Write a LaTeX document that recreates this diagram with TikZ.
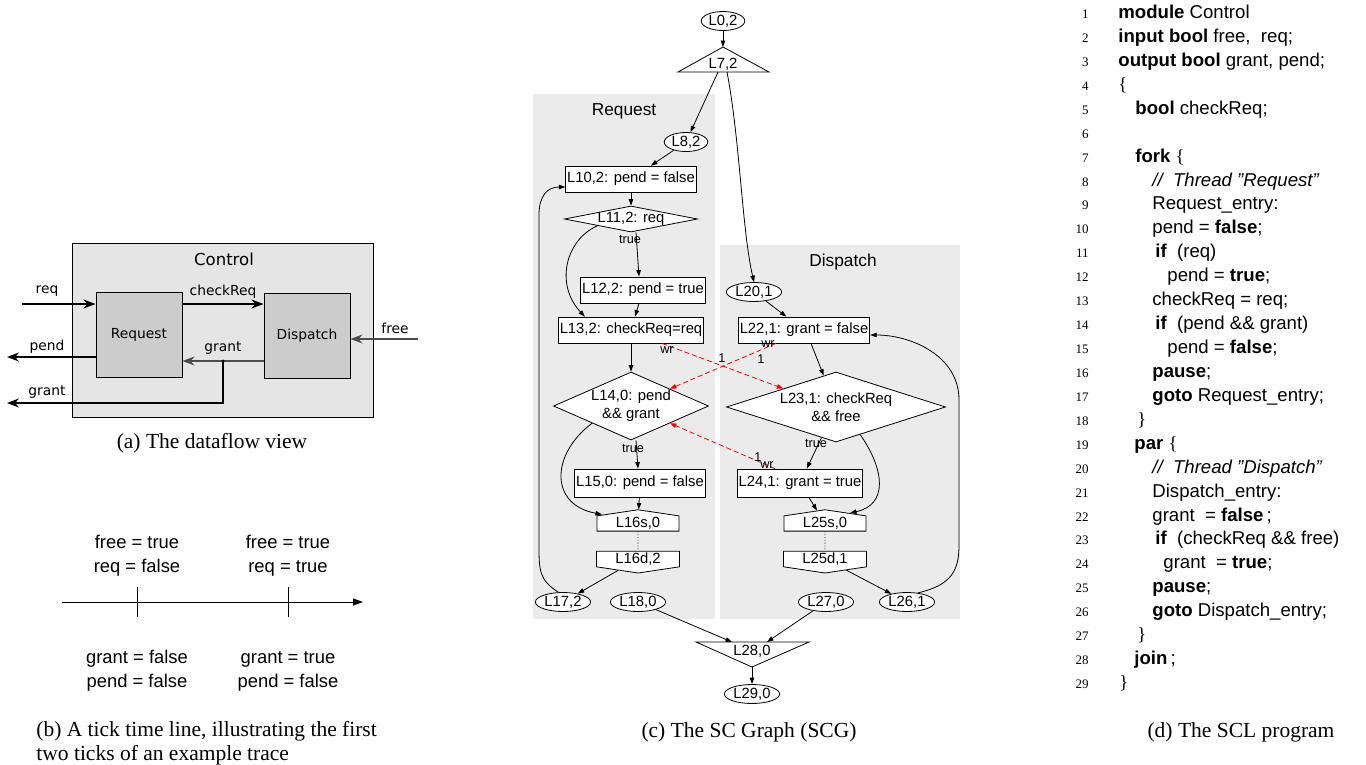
\documentclass[tikz,border=0pt]{standalone}
\usepackage{fontspec}
\setmainfont{Liberation Serif}
\setsansfont{Liberation Sans}
\newfontfamily\dvfont{DejaVu Sans}
\usetikzlibrary{arrows.meta,shapes.geometric,shapes.symbols,calc}

\newcommand{\capfont}{\rmfamily\fontsize{21.5}{25}\selectfont}
\newcommand{\scgfont}{\sffamily\fontsize{14.8}{18}\selectfont}
\newcommand{\smallscg}{\sffamily\fontsize{12.7}{14}\selectfont}
\newcommand{\clfont}{\sffamily\fontsize{17.3}{20}\selectfont}
\newcommand{\codefont}{\sffamily\fontsize{18.6}{22}\selectfont}
\newcommand{\numfont}{\rmfamily\fontsize{13}{15}\selectfont}
\newcommand{\dffont}{\dvfont\fontsize{13.8}{16}\selectfont}
\newcommand{\lbr}{{\rmfamily\{}}
\newcommand{\rbr}{{\rmfamily\}}}

\definecolor{clusterfill}{RGB}{235,235,235}
\definecolor{ctrlfill}{RGB}{229,229,229}
\definecolor{blockfill}{RGB}{204,204,204}

\tikzset{
  ell/.style={draw, fill=white, ellipse, font=\scgfont, inner xsep=1pt, inner ysep=0.5pt, minimum height=19pt},
  stm/.style={draw, fill=white, rectangle, font=\scgfont, inner xsep=1.5pt, inner ysep=0pt, minimum height=26pt},
  cond/.style={draw, fill=white, diamond, font=\scgfont, inner sep=0pt, align=center},
  surf/.style={draw, fill=white, signal, signal to=north, signal from=nowhere, signal pointer angle=163, font=\scgfont, inner xsep=18.8pt, inner ysep=1.5pt},
  dpth/.style={draw, fill=white, signal, signal to=south, signal from=nowhere, signal pointer angle=163, font=\scgfont, inner xsep=18.8pt, inner ysep=1.5pt},
  lbl/.style={font=\smallscg, inner sep=0pt},
  arr/.style={-{Triangle[length=6.5pt,width=4.5pt]}},
  wr/.style={arr, red, dash pattern=on 5pt off 3pt},
  dfblock/.style={draw, fill=blockfill, line width=1pt, minimum width=86pt, minimum height=85pt, font=\dffont},
  dfarr/.style={-{Stealth[length=12pt,width=9pt,inset=4pt]}, line width=1.3pt},
  dflbl/.style={font=\dffont, anchor=base},
  tltext/.style={font=\sffamily\fontsize{18.4}{22}\selectfont, anchor=base},
  codeln/.style={font=\codefont, anchor=base west, inner sep=0pt},
  lnum/.style={font=\numfont, anchor=base east, inner sep=0pt},
  capt/.style={font=\capfont, anchor=base, inner sep=0pt}
}
\newcommand{\codeline}[3]{\node[codeln] (c#1) at (#2,{18.5+(#1-1)*23.93}) {#3};}

\begin{document}
\begin{tikzpicture}[x=1pt,y=-1pt,line width=0.8pt]
\useasboundingbox (0,0) rectangle (1366,764);

% (a) dataflow view
\node[draw, fill=ctrlfill, line width=1pt, minimum width=301pt, minimum height=174pt, inner sep=0pt] (control) at (222.5,330) {};
\node[font=\dvfont\fontsize{16.5}{19}\selectfont, anchor=base] (ctrllabel) at (224,265) {Control};
\node[dfblock] (request) at (139,334.5) {Request};
\node[dfblock] (dispatch) at (307,336) {Dispatch};

\coordinate (reqin) at (22,304);
\coordinate (freein) at (418,339);
\coordinate (pendout) at (7,357);
\coordinate (gdot) at (223,361);
\coordinate (grantout) at (7,403);

\draw[dfarr] (reqin) -- (request.west |- reqin);
\draw[dfarr] (request.east |- reqin) -- (dispatch.west |- reqin);
\draw[dfarr, black!70] (freein) -- (dispatch.east |- freein);
\draw[dfarr, line width=1.1pt, black!70] (dispatch.west |- gdot) -- (request.east |- gdot);
\draw[dfarr] (request.west |- pendout) -- (pendout);
\draw[dfarr, line width=1.1pt] (gdot) |- (grantout);
\fill (gdot) circle (1.6);

\node[dflbl] (lreq) at (47,293) {req};
\node[dflbl] (lcheck) at (223,295) {checkReq};
\node[dflbl] (lfree) at (395,333) {free};
\node[dflbl] (lpend) at (47,350) {pend};
\node[dflbl] (lgrant) at (223,351) {grant};
\node[dflbl] (lgrantout) at (47,395) {grant};
\node[capt] (capa) at (212,448) {(a) The dataflow view};

% (b) tick time line
\coordinate (tstart) at (62,602);
\coordinate (tend) at (363,602);
\draw[-{Triangle[length=10pt,width=7pt]}, line width=1pt] (tstart) -- (tend);
\foreach \x in {137,288}
  \draw[line width=1pt] (\x,587) -- (\x,617);
\node[tltext] (in1a) at (137,548) {free = true};
\node[tltext] (in1b) at (137,572) {req = false};
\node[tltext] (in2a) at (288,548) {free = true};
\node[tltext] (in2b) at (288,572) {req = true};
\node[tltext] (out1a) at (137,663) {grant = false};
\node[tltext] (out1b) at (137,687) {pend = false};
\node[tltext] (out2a) at (288,663) {grant = true};
\node[tltext] (out2b) at (288,687) {pend = false};
\node[capt, anchor=base west] (capb1) at (36,736) {(b) A tick time line, illustrating the first};
\node[capt, anchor=base west] (capb2) at (36,760) {two ticks of an example trace};

% (c) SC graph
\fill[clusterfill] (533,94) rectangle (715,619);
\fill[clusterfill] (720,245) rectangle (960,619);
\node[font=\clfont, anchor=base] (reqthread) at (624,115) {Request};
\node[font=\clfont, anchor=base] (dispthread) at (843,266) {Dispatch};

\node[ell] (l0) at (723,21) {L0,2};
\draw[fill=white] (723,47) -- (769,72) -- (678,72) -- cycle;
\node[font=\scgfont, inner sep=0pt] (l7) at (723,64) {L7,2};
\coordinate (l7top) at (723,47);
\coordinate (l7l) at (718,72);
\coordinate (l7r) at (727,72);

\node[ell] (l8) at (686,142) {L8,2};
\node[stm] (l10) at (631,179) {L10,2: pend = false};
\node[cond, minimum width=133pt, minimum height=26pt, aspect=5, text height=8pt, text depth=2pt] (l11) at (631,219) {L11,2: req};
\node[stm] (l12) at (643,290) {L12,2: pend = true};
\node[stm] (l13) at (631,330) {L13,2: checkReq=req};
\node[cond, minimum width=155pt, minimum height=68pt, aspect=2.3] (l14) at (631,406) {L14,0: pend\\\&\& grant};
\node[stm, minimum height=28pt] (l15) at (640,483) {L15,0: pend = false};
\node[surf] (l16s) at (638,523.5) {L16s,0};
\node[dpth] (l16d) at (638,559) {L16d,2};
\node[ell] (l17) at (563,602) {L17,2};
\node[ell] (l18) at (638,602) {L18,0};

\node[ell] (l20) at (754,292) {L20,1};
\node[stm] (l22) at (804,330) {L22,1: grant = false};
\node[cond, minimum width=219pt, minimum height=70pt, aspect=3.1] (l23) at (836,407) {L23,1: checkReq\\\&\& free};
\node[stm, minimum height=28pt] (l24) at (800,483) {L24,1: grant = true};
\node[surf] (l25s) at (825,523.5) {L25s,0};
\node[dpth] (l25d) at (825,559) {L25d,1};
\node[ell] (l27) at (826,602) {L27,0};
\node[ell] (l26) at (907,602) {L26,1};

\draw[fill=white] (696,642) -- (809,642) -- (752,667) -- cycle;
\node[font=\scgfont, inner sep=0pt] (l28) at (752,651) {L28,0};
\coordinate (l28l) at (732,642);
\coordinate (l28r) at (767,642);
\coordinate (l28bot) at (752,667);
\node[ell] (l29) at (752,694) {L29,0};

% control flow
\draw[arr] (l0) -- (l7top);
\draw[arr] (l7l) -- (l8);
\draw[arr] (l7r) .. controls (740,140) and (742,230) .. (l20.north);
\draw[arr] (l8) -- (l10);
\draw[arr] (l10) -- (l11);
\draw[arr] ([xshift=5pt]l11.south) -- ([xshift=-4pt]l12.north);
\draw[arr] (l11.south west) .. controls (565,240) and (555,285) .. ([xshift=27pt]l13.north west);
\draw[arr] (l12) -- (l13);
\draw[arr] (l13) -- (l14);
\draw[arr] ([xshift=5pt]l14.south) -- ([xshift=-2pt]l15.north);
\draw[arr] (l14.south west) .. controls (550,455) and (550,505) .. ([xshift=-36pt,yshift=-5pt]l16s.north);
\draw[arr] (l15) -- (l16s);
\draw[dotted] (l16s) -- (l16d);
\draw[arr] (l16d) -- (l17);
\draw[arr] (l17.115) .. controls (539,580) and (539,570) .. (539,545) -- (539,215) .. controls (539,195) and (548,187) .. ([yshift=-8pt]l10.west);

\draw[arr] (l20) -- (l22);
\draw[arr] ([xshift=7pt]l22.south) -- (l23);
\draw[arr] (l23) -- (l24);
\draw[arr] ($(l23.south)!0.22!(l23.east)$) .. controls (885,470) and (888,505) .. ([xshift=25pt,yshift=-3.6pt]l25s.north);
\draw[arr] (l24) -- (l25s);
\draw[dotted] (l25s) -- (l25d);
\draw[arr] (l25d) -- (l26);
\draw[arr] (l26.40) .. controls (952,585) and (959,570) .. (959,545) -- (959,400) .. controls (959,355) and (910,335) .. ([yshift=-5pt]l22.east);

\draw[arr] (l18) -- (l28l);
\draw[arr] (l27) -- (l28r);
\draw[arr] (l28bot) -- (l29);

\node[lbl] (t11) at (630,239) {true};
\node[lbl] (t14) at (633,448) {true};
\node[lbl] (t23) at (816,443) {true};

% data dependencies
\draw[wr] ([xshift=31pt]l13.south) -- ($(l23.north)!0.48!(l23.west)$);
\draw[wr] ([xshift=-28pt]l22.south) -- ($(l14.north)!0.5!(l14.east)$);
\draw[wr] ([xshift=-25pt]l24.north) -- ($(l14.east)!0.5!(l14.south)$);
\node[lbl] (wr1) at (667,350) {wr};
\node[lbl] (one1) at (722,358) {1};
\node[lbl] (wr2) at (768,344) {wr};
\node[lbl] (one2) at (761,359) {1};
\node[lbl] (one3) at (758,457) {1};
\node[lbl] (wr3) at (767,465) {wr};

\node[capt] (capc) at (749,737) {(c) The SC Graph (SCG)};

% (d) SCL program
\foreach \i in {1,...,29}
  \node[lnum] (n\i) at (1089,{18.5+(\i-1)*23.93}) {\i};
\codeline{1}{1118}{\textbf{module} Control}
\codeline{2}{1118}{\textbf{input bool} free,\ \ req;}
\codeline{3}{1118}{\textbf{output bool} grant, pend;}
\codeline{4}{1118}{\lbr}
\codeline{5}{1135}{\textbf{bool} checkReq;}
\codeline{7}{1135}{\textbf{fork} \lbr}
\codeline{8}{1152}{\textit{//\ \ Thread ''Request''}}
\codeline{9}{1152}{Request\_entry:}
\codeline{10}{1152}{pend = \textbf{false};}
\codeline{11}{1155}{\textbf{if}\ \ (req)}
\codeline{12}{1167}{pend = \textbf{true};}
\codeline{13}{1152}{checkReq = req;}
\codeline{14}{1155}{\textbf{if}\ \ (pend \&\& grant)}
\codeline{15}{1167}{pend = \textbf{false};}
\codeline{16}{1152}{\textbf{pause};}
\codeline{17}{1152}{\textbf{goto} Request\_entry;}
\codeline{18}{1137}{\rbr}
\codeline{19}{1134}{\textbf{par} \lbr}
\codeline{20}{1152}{\textit{//\ \ Thread ''Dispatch''}}
\codeline{21}{1152}{Dispatch\_entry:}
\codeline{22}{1152}{grant\ \ = \textbf{false}\,;}
\codeline{23}{1155}{\textbf{if}\ \ (checkReq \&\& free)}
\codeline{24}{1163}{grant\ \ = \textbf{true};}
\codeline{25}{1152}{\textbf{pause};}
\codeline{26}{1152}{\textbf{goto} Dispatch\_entry;}
\codeline{27}{1137}{\rbr}
\codeline{28}{1134}{\textbf{join}\,;}
\codeline{29}{1119}{\rbr}

\node[capt] (capd) at (1241,737) {(d) The SCL program};
\end{tikzpicture}
\end{document}
